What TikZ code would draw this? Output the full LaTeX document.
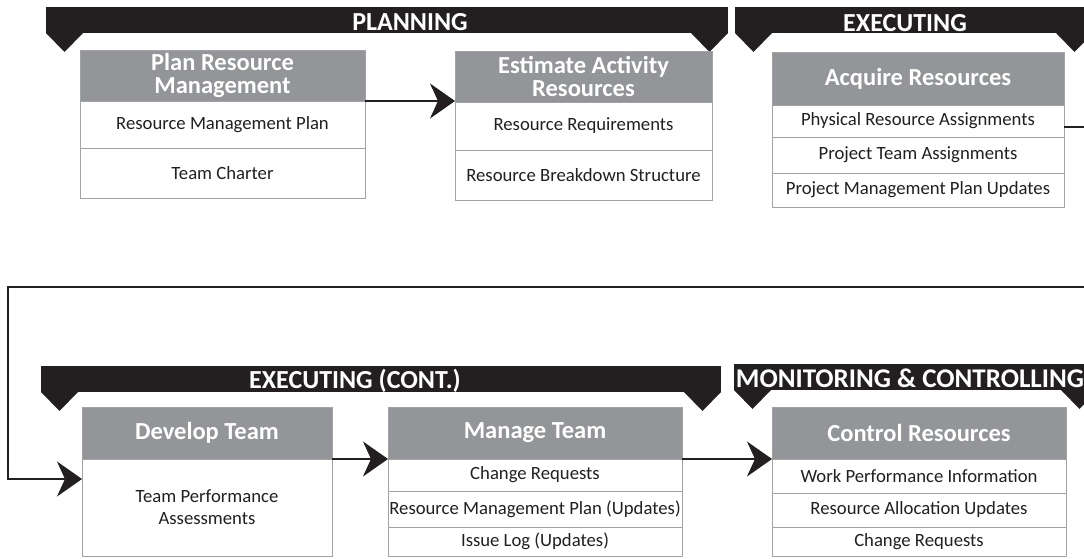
\documentclass[tikz,border=0pt]{standalone}
\usepackage{fontspec}
\setmainfont{Carlito}
\usetikzlibrary{arrows.meta}

\definecolor{hdrgray}{RGB}{147,149,152}
\definecolor{inkdark}{RGB}{35,31,32}
\definecolor{rulegray}{RGB}{160,162,165}

\tikzset{
  hdr/.style={draw=rulegray, line width=0.8pt, fill=hdrgray, text=white,
    font=\fontsize{24.5}{22.5}\selectfont\bfseries, align=center,
    inner sep=0pt, outer sep=0pt, anchor=north west},
  cell/.style={draw=rulegray, line width=0.8pt, fill=white, text=inkdark,
    font=\fontsize{18.7}{22}\selectfont, align=center,
    inner sep=0pt, outer sep=0pt, anchor=north west},
  bartext/.style={text=white, font=\fontsize{26}{26}\selectfont\bfseries,
    inner sep=0pt, anchor=base},
  flow/.style={draw=inkdark, line width=1.1pt,
    -{Stealth[length=25pt, width=35pt, inset=8pt]}},
}

% phase banner: name, left x, right x, top y, text x, baseline y, text
\newcommand\phasebar[7]{%
  \fill[inkdark] (#2,#4) rectangle (#3,{#4+26});
  \fill[inkdark] (#2,{#4+26}) -- ({#2+18.5},{#4+45}) -- ({#2+37},{#4+26}) -- cycle;
  \fill[inkdark] ({#3-37},{#4+26}) -- ({#3-18.5},{#4+45}) -- (#3,{#4+26}) -- cycle;
  \node[bartext] (#1) at (#5,#6) {#7};
}

\begin{document}
\begin{tikzpicture}[x=1pt, y=-1pt]
  \useasboundingbox (0,0) rectangle (1084,559);
  \fill[white] (0,0) rectangle (1084,559);
  \clip (0,0) rectangle (1084,559);

  % phase banners
  \phasebar{ph1}{46}{728}{7}{410}{31}{PLANNING}
  \phasebar{ph2}{735}{1093}{7}{905}{31.5}{EXECUTING}
  \phasebar{ph3}{41}{721}{366}{355}{388}{EXECUTING (CONT.)}
  \phasebar{ph4}{734}{1098}{364}{910}{387}{\fontsize{27}{27}\selectfont MONITORING \& CONTROLLING}

  % Plan Resource Management
  \node[hdr, minimum width=285pt, minimum height=51pt] (pr) at (80,50) {Plan Resource\\Management};
  \node[cell, minimum width=285pt, minimum height=47pt] (pr1) at (80,101) {Resource Management Plan};
  \node[cell, minimum width=285pt, minimum height=50pt] (pr2) at (80,148) {Team Charter};

  % Estimate Activity Resources
  \node[hdr, minimum width=257pt, minimum height=51pt] (ea) at (455,51) {Estimate Activity\\Resources};
  \node[cell, minimum width=257pt, minimum height=48pt] (ea1) at (455,102) {Resource Requirements};
  \node[cell, minimum width=257pt, minimum height=50pt] (ea2) at (455,150) {Resource Breakdown Structure};

  % Acquire Resources
  \node[hdr, minimum width=292pt, minimum height=53pt] (aq) at (772,52) {Acquire Resources};
  \node[cell, minimum width=292pt, minimum height=32pt] (aq1) at (772,105) {Physical Resource Assignments};
  \node[cell, minimum width=292pt, minimum height=36pt] (aq2) at (772,137) {Project Team Assignments};
  \node[cell, minimum width=292pt, minimum height=34pt] (aq3) at (772,173) {Project Management Plan Updates};

  % Develop Team
  \node[hdr, minimum width=250pt, minimum height=52pt] (dv) at (82,407) {Develop Team};
  \node[cell, minimum width=250pt, minimum height=97pt] (dv1) at (82,459) {Team Performance\\Assessments};

  % Manage Team
  \node[hdr, minimum width=294pt, minimum height=52pt] (mt) at (388,407) {Manage Team};
  \node[cell, minimum width=294pt, minimum height=32pt] (mt1) at (388,459) {Change Requests};
  \node[cell, minimum width=294pt, minimum height=36pt] (mt2) at (388,491) {Resource Management Plan (Updates)};
  \node[cell, minimum width=294pt, minimum height=29pt] (mt3) at (388,527) {Issue Log (Updates)};

  % Control Resources
  \node[hdr, minimum width=294pt, minimum height=52pt] (cr) at (772,407) {Control Resources};
  \node[cell, minimum width=294pt, minimum height=34pt] (cr1) at (772,459) {Work Performance Information};
  \node[cell, minimum width=294pt, minimum height=34pt] (cr2) at (772,493) {Resource Allocation Updates};
  \node[cell, minimum width=294pt, minimum height=29pt] (cr3) at (772,527) {Change Requests};

  % connectors
  \draw[flow] (pr.south east) -- (pr.south east -| ea.west);
  \coordinate (loopR) at (1100,287);
  \coordinate (loopL) at (8,287);
  \draw[flow] ([yshift=-6pt]aq1.east) -| (loopR) -- (loopL) |- ([yshift=-20pt]dv1.north west);
  \draw[flow] (dv.south east) -- (dv.south east -| mt.west);
  \draw[flow] (mt.south east) -- (mt.south east -| cr.west);
\end{tikzpicture}
\end{document}
